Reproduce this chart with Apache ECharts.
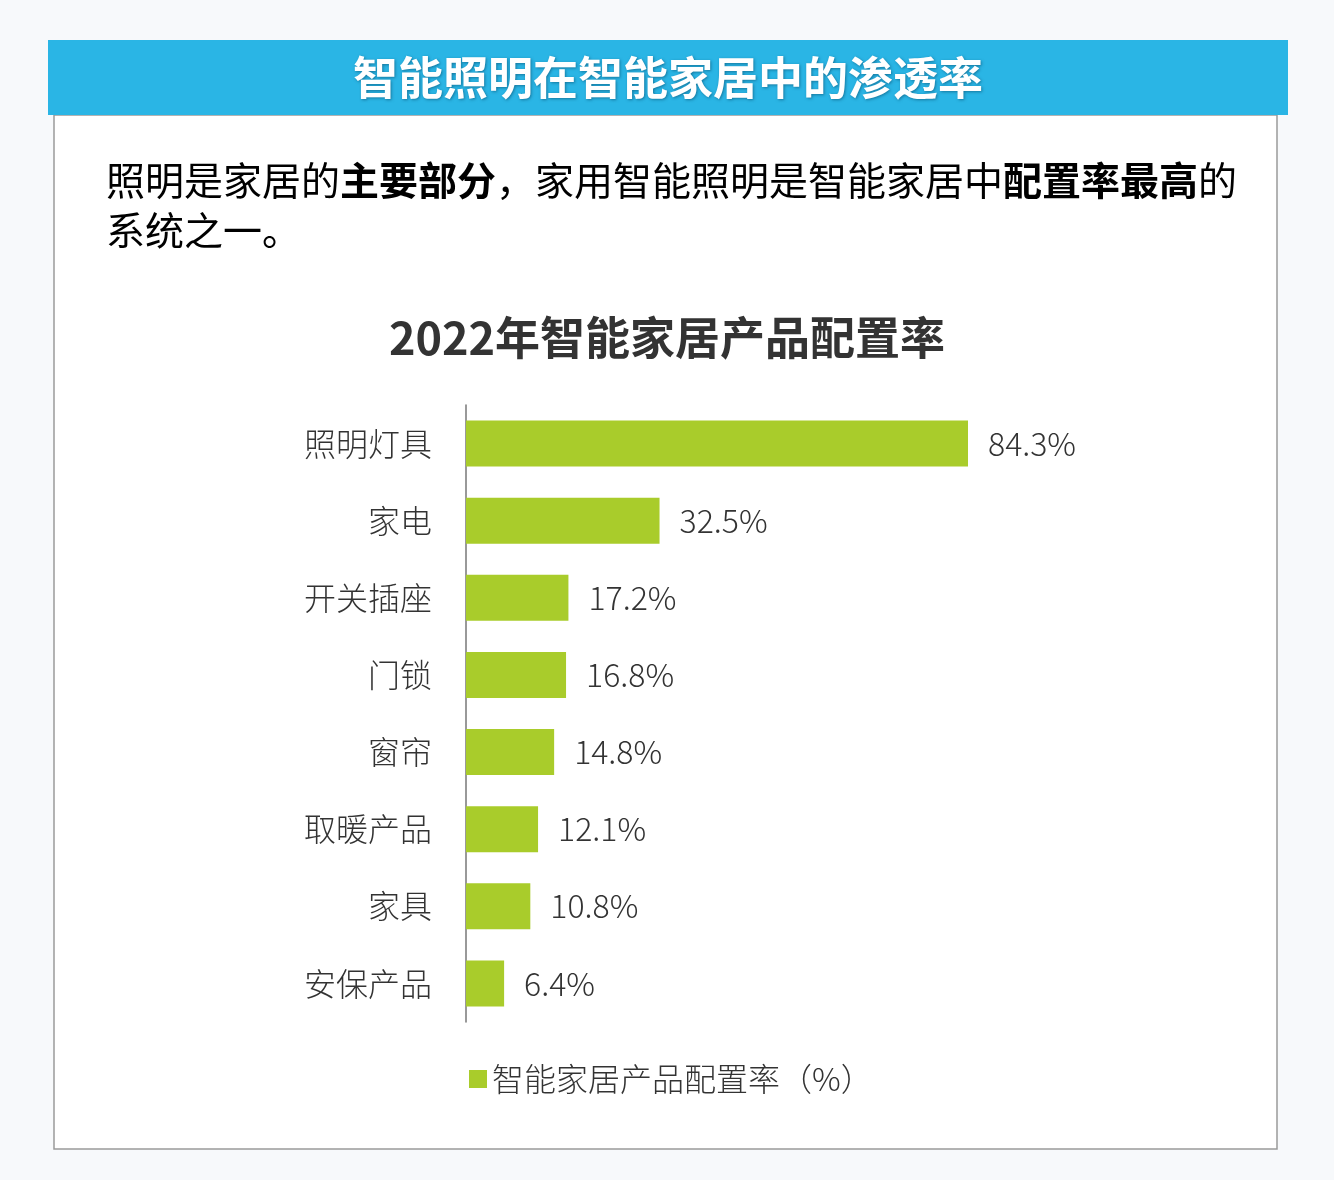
<!DOCTYPE html>
<html>
<head>
<meta charset="utf-8">
<title>2022年智能家居产品配置率</title>
<script src="https://cdn.jsdelivr.net/npm/echarts@6/dist/echarts.min.js"></script>
<style>
  html, body { margin: 0; padding: 0; background: #f7f9fb; }
  #barChart { width: 1334px; height: 1180px; }
</style>
</head>
<body>
<div id="barChart"></div>
<script>
// 数据
const categories = ['照明灯具', '家电', '开关插座', '门锁', '窗帘', '取暖产品', '家具', '安保产品']
const values = [84.3, 32.5, 17.2, 16.8, 14.8, 12.1, 10.8, 6.4]
const seriesName = '智能家居产品配置率（%）'

const font = '"Noto Sans CJK SC", "Noto Sans", sans-serif'

const barChart = echarts.init(document.getElementById('barChart'))
barChart.setOption({
  backgroundColor: '#f7f9fb',
  textStyle: { fontFamily: font },
  title: {
    text: '2022年智能家居产品配置率',
    left: 'center',
    top: 310,
    textStyle: { fontSize: 45, fontWeight: 'bold', color: '#333', fontFamily: font }
  },
  graphic: [
    {
      type: 'rect',
      shape: { x: 54, y: 115, width: 1223, height: 1034 },
      style: { fill: '#ffffff', stroke: '#9a9a9a', lineWidth: 1.5 },
      z: -10
    },
    {
      type: 'rect',
      shape: { x: 48, y: 40, width: 1240, height: 75 },
      style: { fill: '#2ab5e5' }
    },
    {
      type: 'text',
      x: 668,
      y: 78,
      style: {
        text: '智能照明在智能家居中的渗透率',
        fill: '#ffffff',
        font: 'bold 45px ' + font,
        align: 'center',
        verticalAlign: 'middle',
        textShadowColor: 'rgba(0,60,90,0.5)',
        textShadowBlur: 3,
        textShadowOffsetX: 1,
        textShadowOffsetY: 1
      }
    },
    {
      type: 'text',
      x: 106,
      y: 155,
      style: {
        text: '{n|照明是家居的}{b|主要部分}{n|，家用智能照明是智能家居中}{b|配置率最高}{n|的}\n{n|系统之一。}',
        rich: {
          n: { fontSize: 39, color: '#404040', fontFamily: font, lineHeight: 50 },
          b: { fontSize: 39, color: '#2a2a2a', fontWeight: 'bold', fontFamily: font, lineHeight: 50 }
        }
      }
    }
  ],
  legend: {
    data: [seriesName],
    left: 464,
    top: 1058,
    itemWidth: 18,
    itemHeight: 18,
    icon: 'rect',
    itemGap: 10,
    textStyle: { fontSize: 32, color: '#333', fontFamily: font, fontWeight: 300 }
  },
  grid: {
    left: 466,
    right: 1334 - 1061.5,
    top: 405,
    height: 617,
    containLabel: false
  },
  xAxis: {
    type: 'value',
    min: 0,
    max: 100,
    show: false
  },
  yAxis: {
    type: 'category',
    data: categories,
    inverse: true,
    axisLine: { show: true, lineStyle: { color: '#777', width: 1.5 } },
    axisTick: { show: false },
    axisLabel: { fontSize: 32, color: '#333', margin: 34, fontFamily: font, fontWeight: 300 }
  },
  series: [
    {
      name: seriesName,
      type: 'bar',
      data: values,
      barWidth: 46,
      itemStyle: { color: '#a9cc2b' },
      label: {
        show: true,
        position: 'right',
        distance: 20,
        formatter: '{c}%',
        fontSize: 32,
        color: '#333',
        fontFamily: font,
        fontWeight: 300
      }
    }
  ]
})
</script>
</body>
</html>
